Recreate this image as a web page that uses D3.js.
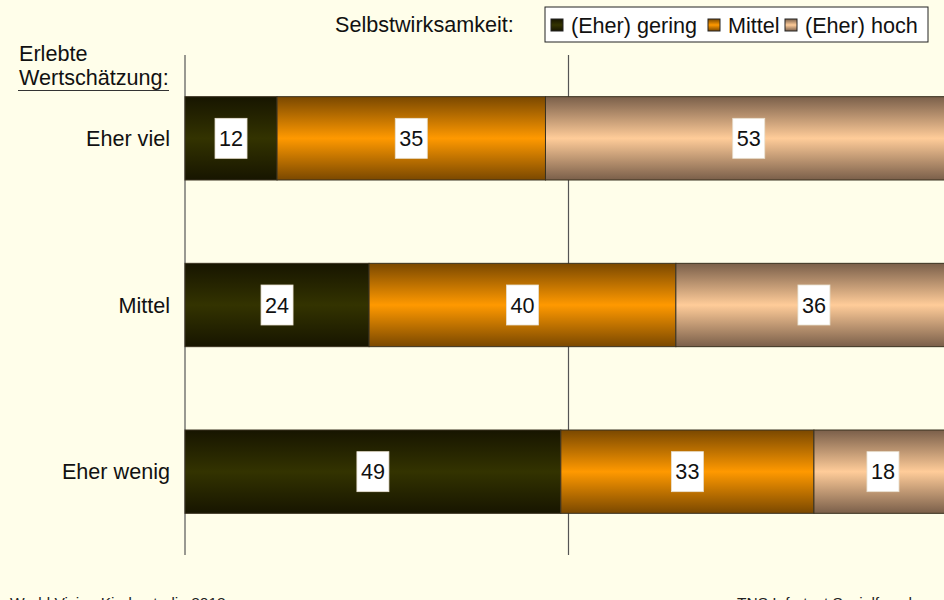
<!DOCTYPE html>
<html>
<head>
<meta charset="utf-8">
<script src="https://cdn.jsdelivr.net/npm/d3@7"></script>
<style>
  body { margin: 0; background: #fffeea; overflow: hidden; }
  text { font-family: "Liberation Sans", Arial, sans-serif; }
</style>
</head>
<body>
<div id="canvas"></div>
<script>
"use strict"

/* Data */
let categories = ["Eher viel", "Mittel", "Eher wenig"];
let seriesNames = ["(Eher) gering", "Mittel", "(Eher) hoch"];
let gering = [12, 24, 49];
let mittel = [35, 40, 33];
let hoch = [53, 36, 18];

/* Drawing config */
let svgWidth = 944;
let svgHeight = 600;
let axisLeft = 185;
let plotTop = 55;
let plotBottom = 555;
let fontSize = "21.6px";

let svg = d3.select("#canvas")
    .append("svg")
    .attr("width", svgWidth)
    .attr("height", svgHeight);

svg.append("rect")
    .attr("width", svgWidth)
    .attr("height", svgHeight)
    .attr("fill", "#fffeea");

// gradients: dark at edges, bright in the middle
let colors = [
    { edge: "#171500", mid: "#333300" },
    { edge: "#7a4800", mid: "#ff9900" },
    { edge: "#7a5f4a", mid: "#ffcc99" }
];
let defs = svg.append("defs");
colors.forEach(function(c, i) {
    let g = defs.append("linearGradient")
        .attr("id", "grad" + i)
        .attr("x1", 0).attr("y1", 0)
        .attr("x2", 0).attr("y2", 1);
    g.append("stop").attr("offset", "0%").attr("stop-color", c.edge);
    g.append("stop").attr("offset", "50%").attr("stop-color", c.mid);
    g.append("stop").attr("offset", "100%").attr("stop-color", c.edge);
});

let xScale = d3.scaleLinear()
    .domain([0, 100])
    .range([axisLeft, 952]);

let yScale = d3.scaleBand()
    .domain(categories)
    .range([plotTop, plotBottom])
    .paddingInner(0.5)
    .paddingOuter(0.25);

// build stacked rows
let rows = categories.map(function(c, i) {
    return { cat: c, gering: gering[i], mittel: mittel[i], hoch: hoch[i] };
});
let stack = d3.stack().keys(["gering", "mittel", "hoch"])(rows);

// grid lines at 0 and 50
svg.selectAll(".grid")
    .data([0, 50])
    .join("line")
    .attr("x1", d => xScale(d))
    .attr("x2", d => xScale(d))
    .attr("y1", plotTop)
    .attr("y2", plotBottom)
    .attr("stroke", "#555")
    .attr("stroke-width", 1.2);

let layers = svg.selectAll(".layer")
    .data(stack)
    .join("g")
    .attr("fill", (d, i) => "url(#grad" + i + ")");

layers.selectAll("rect")
    .data(d => d)
    .join("rect")
    .attr("x", d => xScale(d[0]))
    .attr("y", d => yScale(d.data.cat))
    .attr("width", d => xScale(d[1]) - xScale(d[0]))
    .attr("height", yScale.bandwidth())
    .attr("stroke", "#3a3220")
    .attr("stroke-width", 1);

// value labels
let labels = [];
stack.forEach(function(layer) {
    layer.forEach(function(d) {
        labels.push({ v: d[1] - d[0], x: xScale((d[0] + d[1]) / 2), y: yScale(d.data.cat) + yScale.bandwidth() / 2 });
    });
});

let lab = svg.selectAll(".vlab")
    .data(labels)
    .join("g")
    .attr("transform", d => "translate(" + d.x + "," + d.y + ")");

lab.append("rect")
    .attr("x", -16)
    .attr("y", -20)
    .attr("width", 32)
    .attr("height", 40)
    .attr("fill", "white")
    .attr("stroke", "#e8e0d0")
    .attr("stroke-width", 0.8);

lab.append("text")
    .attr("text-anchor", "middle")
    .attr("dy", "0.36em")
    .style("font-size", fontSize)
    .attr("fill", "#111")
    .text(d => d.v);

// category labels
svg.selectAll(".catLabel")
    .data(categories)
    .join("text")
    .attr("x", 170)
    .attr("y", d => yScale(d) + yScale.bandwidth() / 2)
    .attr("dy", "0.36em")
    .attr("text-anchor", "end")
    .style("font-size", fontSize)
    .attr("fill", "#111")
    .text(d => d);

// axis title
svg.append("text")
    .attr("x", 19)
    .attr("y", 61)
    .style("font-size", fontSize)
    .attr("fill", "#111")
    .text("Erlebte");
svg.append("text")
    .attr("x", 19)
    .attr("y", 85)
    .style("font-size", fontSize)
    .attr("fill", "#111")
    .text("Wertschätzung:");
svg.append("line")
    .attr("x1", 18)
    .attr("x2", 169)
    .attr("y1", 90.5)
    .attr("y2", 90.5)
    .attr("stroke", "#333")
    .attr("stroke-width", 1.2);

// legend
svg.append("text")
    .attr("x", 335)
    .attr("y", 32)
    .style("font-size", fontSize)
    .attr("fill", "#111")
    .text("Selbstwirksamkeit:");

svg.append("rect")
    .attr("x", 545)
    .attr("y", 7)
    .attr("width", 383)
    .attr("height", 35)
    .attr("fill", "white")
    .attr("stroke", "#222");

let legendX = [551, 708, 785];
let legend = svg.selectAll(".legItem")
    .data(seriesNames)
    .join("g")
    .attr("transform", (d, i) => "translate(" + legendX[i] + ",25)");

legend.append("rect")
    .attr("x", 0)
    .attr("y", -6)
    .attr("width", 12)
    .attr("height", 12)
    .attr("fill", (d, i) => "url(#grad" + i + ")")
    .attr("stroke", "#222");

legend.append("text")
    .attr("x", 20)
    .attr("dy", "0.36em")
    .style("font-size", fontSize)
    .attr("fill", "#111")
    .text(d => d);

// source lines (cut at bottom edge as in the original)
svg.append("text")
    .attr("x", 10)
    .attr("y", 608)
    .style("font-size", "15.5px")
    .attr("fill", "#222")
    .text("World Vision Kinderstudie 2013");
svg.append("text")
    .attr("x", 737)
    .attr("y", 608)
    .style("font-size", "15.5px")
    .attr("fill", "#222")
    .text("TNS Infratest Sozialforschung");
</script>
</body>
</html>
